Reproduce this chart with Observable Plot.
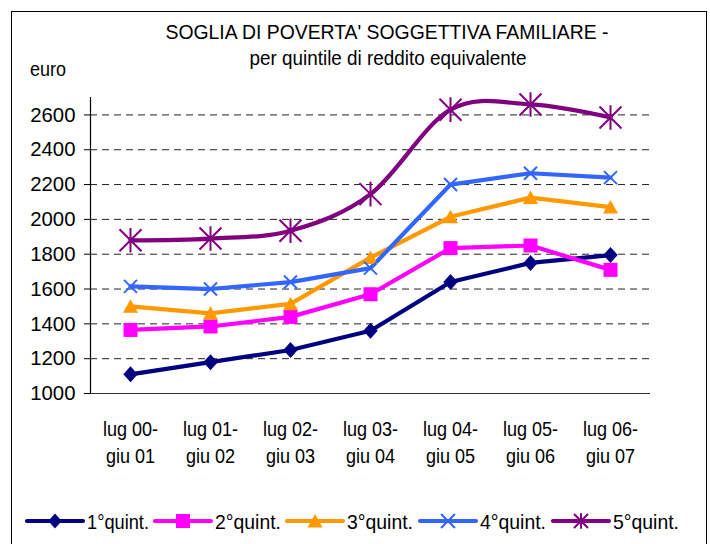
<!DOCTYPE html>
<html>
<head>
<meta charset="utf-8">
<script src="https://cdn.jsdelivr.net/npm/d3@7"></script>
<script src="https://cdn.jsdelivr.net/npm/@observablehq/plot@0.6"></script>
<style>
  html, body { margin: 0; padding: 0; background: #fff; }
  body { width: 710px; height: 544px; overflow: hidden; position: relative; }
  #frame { position: absolute; left: 11px; top: 11px; width: 696px; height: 600px; border: 1.5px solid #000; box-sizing: border-box; }
  #bg { position: absolute; left: 0; top: 0; }
  #chart { position: absolute; left: 0; top: 90px; }
</style>
</head>
<body>
<div id="frame"></div>
<svg id="bg" width="710" height="544"></svg>
<div id="chart"></div>
<script>
const FONT = "'Liberation Sans', Arial, sans-serif";

// ---- data ----
const periods = ["lug 00-\ngiu 01", "lug 01-\ngiu 02", "lug 02-\ngiu 03", "lug 03-\ngiu 04", "lug 04-\ngiu 05", "lug 05-\ngiu 06", "lug 06-\ngiu 07"];
const seriesNames = ["1°quint.", "2°quint.", "3°quint.", "4°quint.", "5°quint."];
const q1 = [1110, 1180, 1250, 1360, 1640, 1750, 1795];
const q2 = [1365, 1385, 1440, 1570, 1835, 1850, 1710];
const q3 = [1500, 1460, 1515, 1780, 2015, 2125, 2070];
const q4 = [1615, 1600, 1640, 1720, 2200, 2265, 2240];
const q5 = [1880, 1890, 1935, 2145, 2630, 2660, 2585];
const yTicks = [1000, 1200, 1400, 1600, 1800, 2000, 2200, 2400, 2600];
const titleText = "SOGLIA DI POVERTA' SOGGETTIVA FAMILIARE -";
const subtitleText = "per quintile di reddito equivalente";
const unitText = "euro";

const colors = ["#000080", "#FF00FF", "#FF9900", "#3366FF", "#800080"];
const values = [q1, q2, q3, q4, q5];

// ---- custom marker symbols ----
const symDiamond = { draw(c, s) { const r = Math.sqrt(s / Math.PI); c.moveTo(0, -r); c.lineTo(0.9 * r, 0); c.lineTo(0, r); c.lineTo(-0.9 * r, 0); c.closePath(); } };
const symSquare = { draw(c, s) { const r = Math.sqrt(s / Math.PI); c.rect(-r, -r, 2 * r, 2 * r); } };
const symTriangle = { draw(c, s) { const r = Math.sqrt(s / Math.PI); c.moveTo(0, -0.95 * r); c.lineTo(r, 0.85 * r); c.lineTo(-r, 0.85 * r); c.closePath(); } };
const symTimes = { draw(c, s) { const r = Math.sqrt(s / Math.PI); c.moveTo(-r, -r); c.lineTo(r, r); c.moveTo(-r, r); c.lineTo(r, -r); } };
const symStar = { draw(c, s) { const r = Math.sqrt(s / Math.PI); c.moveTo(0, -1.12 * r); c.lineTo(0, 1.12 * r); c.moveTo(-r, -r); c.lineTo(r, r); c.moveTo(-r, r); c.lineTo(r, -r); } };
const symbols = [symDiamond, symSquare, symTriangle, symTimes, symStar];
const filled = [true, true, true, false, false];
const plotR = [8, 7, 7.5, 6.5, 11];
const legendR = [7.5, 7, 7.5, 7, 7];

// ---- rows ----
const rows = [];
values.forEach((arr, si) => arr.forEach((v, i) => rows.push({ series: seriesNames[si], period: periods[i], value: v, si })));

const marks = [
  Plot.ruleY(yTicks.slice(1), { stroke: "#222", strokeWidth: 1, strokeDasharray: "7,5" }),
  Plot.ruleY([1000], { stroke: "#333", strokeWidth: 1.2 }),
  Plot.ruleX([periods[0]], { dx: -40, y1: 1000, y2: 2700, stroke: "#000", strokeWidth: 1.2 }),
  Plot.axisY({ ticks: yTicks, tickSize: 6, tickPadding: 9, fontSize: 21, label: null, tickFormat: d => String(d), stroke: "#000" }),
  Plot.axisX({ tickSize: 0, tickPadding: 23, fontSize: 21, lineHeight: 1.29, label: null, tickFormat: d => d })
];
seriesNames.forEach((name, si) => {
  const data = rows.filter(r => r.si === si);
  marks.push(Plot.line(data, {
    x: "period", y: "value", stroke: colors[si], strokeWidth: 4.2,
    curve: si === 4 ? d3.curveCatmullRom.alpha(0) : "linear",
    strokeLinejoin: "round"
  }));
});
seriesNames.forEach((name, si) => {
  const data = rows.filter(r => r.si === si);
  marks.push(Plot.dot(data, {
    x: "period", y: "value", r: plotR[si], symbol: symbols[si],
    fill: filled[si] ? colors[si] : "none",
    stroke: filled[si] ? "none" : colors[si],
    strokeWidth: filled[si] ? 0 : 2
  }));
});

const chart = Plot.plot({
  width: 710, height: 400,
  marginLeft: 90, marginRight: 60, marginTop: 7, marginBottom: 97,
  style: { fontFamily: FONT, fontSize: "21px", color: "#000", background: "transparent", overflow: "visible" },
  x: { type: "point", domain: periods, padding: 0.5 },
  y: { domain: [1000, 2700] },
  marks
});
document.getElementById("chart").appendChild(chart);

// condense axis label glyphs horizontally (narrow Arial look)
d3.select(chart).selectAll("g[aria-label='x-axis tick label'] text").each(function () {
  const t = this.getAttribute("transform") || "";
  this.setAttribute("transform", t + " scale(0.86,1)");
});
d3.select(chart).selectAll("g[aria-label='y-axis tick label'] text").each(function () {
  const t = this.getAttribute("transform") || "";
  this.setAttribute("transform", t + " scale(0.97,1)");
});

// ---- titles and legend ----
const bg = d3.select("#bg").style("font-family", FONT);
bg.append("text").attr("x", 387).attr("y", 39).attr("text-anchor", "middle").attr("font-size", 21)
  .attr("textLength", 443).attr("lengthAdjust", "spacingAndGlyphs").text(titleText);
bg.append("text").attr("x", 388).attr("y", 65).attr("text-anchor", "middle").attr("font-size", 21)
  .attr("textLength", 277).attr("lengthAdjust", "spacingAndGlyphs").text(subtitleText);
bg.append("text").attr("x", 30).attr("y", 76).attr("font-size", 21)
  .attr("textLength", 36).attr("lengthAdjust", "spacingAndGlyphs").text(unitText);

const legendX = [27, 155, 287, 420, 553];
const legendY = 521;
seriesNames.forEach((name, si) => {
  const g = bg.append("g").attr("transform", `translate(${legendX[si]},${legendY})`);
  g.append("line").attr("x1", 0).attr("x2", 56).attr("y1", 0).attr("y2", 0).attr("stroke", colors[si]).attr("stroke-width", 4.2).attr("stroke-linecap", "round");
  const sym = d3.symbol(symbols[si], Math.PI * legendR[si] * legendR[si]);
  g.append("path").attr("transform", "translate(28,0)").attr("d", sym())
    .attr("fill", filled[si] ? colors[si] : "none")
    .attr("stroke", filled[si] ? "none" : colors[si]).attr("stroke-width", 2);
  g.append("text").attr("x", 60).attr("y", 7.5).attr("font-size", 21)
    .attr("textLength", si === 0 ? 62 : 66).attr("lengthAdjust", "spacingAndGlyphs").text(name);
});
</script>
</body>
</html>
